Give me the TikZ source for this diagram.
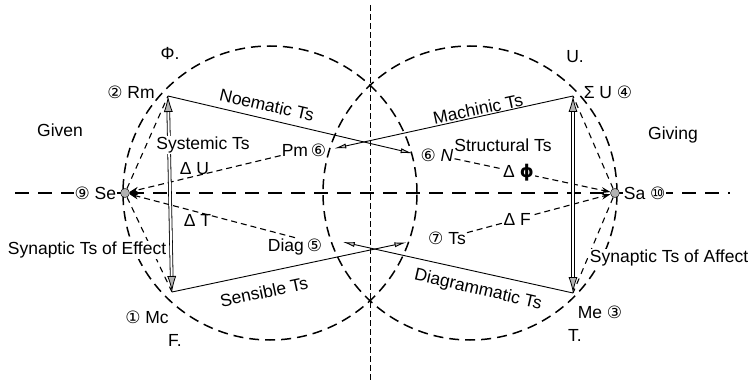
\documentclass[tikz,border=0pt]{standalone}
\usepackage{fontspec}
\setmainfont{Liberation Sans}
\newfontfamily\dejavu{DejaVu Sans}
\usetikzlibrary{arrows.meta,positioning}
\newcommand{\cn}[1]{{\dejavu\fontsize{17}{19}\selectfont #1}}

\begin{document}
\begin{tikzpicture}[
        x=1pt, y=-1pt,
        every node/.style={font=\fontsize{17.5}{20}\selectfont, inner sep=1pt},
        circ/.style={draw, line width=1.5pt, dash pattern=on 10pt off 6pt},
        axis/.style={draw, line width=1.4pt, dash pattern=on 14pt off 9pt},
        vaxis/.style={draw, line width=0.8pt, dash pattern=on 6pt off 3pt},
        side/.style={draw, line width=1.1pt, dash pattern=on 6pt off 5pt},
        delta/.style={draw, line width=1.1pt, dash pattern=on 6pt off 4pt, -{Stealth[length=9pt,width=6pt]}},
        tsline/.style={draw, line width=0.9pt, -{Latex[length=12pt,width=5pt,fill=gray!45]}},
        dline/.style={draw, line width=0.8pt, double, double distance=2pt, {Latex[length=16pt,width=9pt,fill=gray!60]}-{Latex[length=16pt,width=9pt,fill=gray!60]}},
        dotn/.style={circle, draw, fill=gray!60, minimum size=9pt, inner sep=0pt},
        wht/.style={fill=white},
    ]
    \useasboundingbox (0,0) rectangle (755,382);
    % axes
    \coordinate (hl) at (15,193);
    \coordinate (hr) at (730,193);
    \coordinate (vt) at (370,5);
    \coordinate (vb) at (370,382);
    \draw[axis] (hl) -- (hr);
    \draw[vaxis] (vt) -- (vb);
    % the two circles
    \coordinate (cl) at (270,193);
    \coordinate (cr) at (470,193);
    \draw[circ] (cl) circle[radius=147pt];
    \draw[circ] (cr) circle[radius=147pt];
    % corners
    \coordinate (rm) at (168,96);
    \coordinate (mc) at (172,292);
    \coordinate (su) at (573,96);
    \coordinate (me) at (573,293);
    \node[dotn](se) at (125,193){};
    \node[dotn](sa) at (615,193){};
    \node(pm) at (304,150){Pm\,\cn{⑥}};
    \node(nn) at (437,155){\cn{⑥} \textit{N}};
    \node(diag) at (295,247){Diag\,\cn{⑤}};
    \node(ts) at (447,238){\cn{⑦} Ts};
    % sides
    \draw[side] (se) -- (rm);
    \draw[side] (se) -- (mc);
    \draw[side] (sa) -- (su);
    \draw[side] (sa) -- (me);
    % deltas
    \draw[delta] (pm) -- (se) node[pos=0.57, above=0pt](du){Δ U};
    \draw[delta] (diag.north) -- (se) node[pos=0.59, below=1pt](dt){Δ T};
    \draw[delta] (nn) -- (sa) node[wht, pos=0.41](dphi){Δ {\dejavu\bfseries ϕ}};
    \draw[delta] (ts) -- (sa) node[wht, pos=0.35](df){Δ F};
    % the Ts
    \draw[tsline, shorten >=7pt] (rm) -- (nn.west);
    \draw[tsline, shorten >=7pt] (su) -- (pm.east);
    \draw[tsline, shorten >=21pt] (mc) -- (ts.west);
    \draw[tsline, shorten >=20pt] (me) -- (diag.north east);
    \draw[dline] (mc) -- (rm);
    \draw[dline] (me) -- (su);
    \node[rotate=-13](noem) at (267,105){Noematic Ts};
    \node[rotate=12](mach) at (478,109){Machinic Ts};
    \node[rotate=12](sens) at (264,292){Sensible Ts};
    \node[rotate=-13](diagr) at (478,290){Diagrammatic Ts};
    % labels
    \node[wht, left=3pt of se](sel){\cn{⑨} Se};
    \node[wht, right=3pt of sa](sal){Sa \cn{⑩}};
    \node(rml) at (131,92){\cn{②} Rm};
    \node(sul) at (608,92){Σ U \cn{④}};
    \node(mcl) at (147,317){\cn{①} Mc};
    \node(mel) at (600,312){Me \cn{③}};
    \node(phi) at (170,53){Φ.};
    \node(u) at (575,57){U.};
    \node(f) at (175,340){F.};
    \node(t) at (575,335){T.};
    \node(given) at (60,130){Given};
    \node(giving) at (673,135){Giving};
    \node[wht](syst) at (203,145){Systemic Ts};
    \node(struc) at (503,145){Structural Ts};
    \node[wht, inner sep=0.5pt](effect) at (87,250){Synaptic Ts of Effect};
    \node[wht, inner sep=0.5pt](affect) at (669,258){Synaptic Ts of Affect};
\end{tikzpicture}
\end{document}
